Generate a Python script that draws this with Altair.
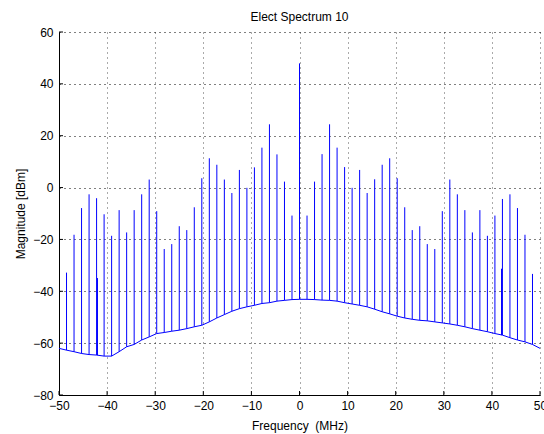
import altair as alt
import pandas as pd

# Spectral line index (spacing 1.5625 MHz)
k_index = list(range(-31, 32))
spacing_mhz = 1.5625

# Peak magnitude of each spectral line (dBm), k = -31 .. 31
peak_dbm = [
    -32.8, -18.2, -7.9, -2.6, -4.1, -10.3, -18.6, -8.7, -17.3, -8.7,
    -2.6, 3.1, -9.1, -23.7, -21.8, -14.9, -16.4, -7.6, 3.6, 11.3,
    8.8, 3.1, -2.1, 6.8, -0.1, 7.8, 15.4, 24.4, 12.8, 2.3,
    -10.8, 47.9, -10.8, 2.3, 12.9, 24.4, 15.4, 7.9, -0.1, 6.8,
    -2.1, 3.2, 8.8, 11.3, 3.6, -7.6, -16.4, -14.9, -21.8, -23.7,
    -9.1, 3.1, -2.6, -8.7, -17.3, -8.7, -18.6, -10.8, -4.4, -2.6,
    -7.9, -18.2, -33.3,
]

# Noise floor under each spectral line (dBm), k = -31 .. 31
floor_dbm = [
    -62.7, -63.3, -64.0, -64.4, -64.6, -65.0, -65.0, -63.3, -61.4, -60.5,
    -58.8, -57.6, -56.3, -55.9, -55.4, -55.0, -54.4, -53.7, -53.1, -51.8,
    -50.3, -49.0, -47.7, -46.7, -46.0, -45.4, -44.7, -44.4, -43.8, -43.5,
    -43.2, -43.1, -43.1, -43.2, -43.4, -43.5, -43.8, -44.4, -44.9, -45.4,
    -46.0, -46.9, -47.9, -48.7, -49.6, -50.3, -50.8, -51.2, -51.4, -51.8,
    -52.2, -52.6, -53.1, -53.7, -54.4, -55.0, -55.6, -56.3, -56.9, -57.9,
    -58.8, -59.5, -60.5,
]

# Band edges of the noise floor
edge_freq = [-50.0, 50.0]
edge_floor = [-62.0, -62.0]

# Two small extra spurs
spur_freq = [-42.0, 42.0]
spur_peak = [-34.9, -31.3]
spur_floor = [-64.6, -56.9]

x_ticks = [-50, -40, -30, -20, -10, 0, 10, 20, 30, 40, 50]
y_ticks = [-80, -60, -40, -20, 0, 20, 40, 60]

line_freq = [k * spacing_mhz for k in k_index]

spikes = pd.DataFrame({
    "freq": line_freq + spur_freq,
    "top": peak_dbm + spur_peak,
    "base": floor_dbm + spur_floor,
})
floor = pd.DataFrame({
    "freq": [edge_freq[0]] + line_freq + [edge_freq[1]],
    "mag": [edge_floor[0]] + floor_dbm + [edge_floor[1]],
})

W, H = 481, 363
FONT = "Liberation Sans"
BLUE = "#0000ff"

xscale = alt.Scale(domain=[-50, 50], nice=False, zero=False)
yscale = alt.Scale(domain=[-80, 60], nice=False, zero=False)

xaxis = alt.Axis(
    values=x_ticks, title="Frequency \u00a0(MHz)", labelPadding=5,
    titleY=34, titleBaseline="alphabetic", titleX=W / 2,
    gridColor="#555555", gridDash=[1, 4], format="d",
    labelFlush=False, labelOverlap=False,
)
yaxis = alt.Axis(
    values=y_ticks, title="Magnitude [dBm]", labelPadding=6,
    titleX=-39, titleY=H / 2, titleAngle=270, titleAlign="center",
    titleBaseline="middle", gridColor="#000000", gridDash=[1, 4], format="d",
    labelFlush=False, labelOverlap=False,
)

floor_line = alt.Chart(floor).mark_line(color=BLUE, strokeWidth=1).encode(
    x=alt.X("freq:Q", scale=xscale, axis=xaxis),
    y=alt.Y("mag:Q", scale=yscale, axis=yaxis),
    order="freq:Q",
)

spike_rules = alt.Chart(spikes).mark_rule(color=BLUE, strokeWidth=1).encode(
    x=alt.X("freq:Q", scale=xscale, axis=xaxis),
    y=alt.Y("top:Q", scale=yscale, axis=yaxis),
    y2="base:Q",
)

xt = pd.DataFrame({"v": x_ticks})
yt = pd.DataFrame({"v": y_ticks})

x_tick_marks = alt.Chart(xt).mark_rule(color="black", strokeWidth=1).encode(
    x=alt.X("v:Q", scale=xscale, axis=xaxis),
    y=alt.value(H),
    y2=alt.value(H - 4),
)
y_tick_marks = alt.Chart(yt).mark_rule(color="black", strokeWidth=1).encode(
    y=alt.Y("v:Q", scale=yscale, axis=yaxis),
    x=alt.value(0),
    x2=alt.value(4),
)

chart = alt.layer(floor_line, spike_rules, x_tick_marks, y_tick_marks).properties(
    width=W,
    height=H,
    title=alt.TitleParams(
        "Elect Spectrum 10", font=FONT, fontSize=12, fontWeight="normal",
        color="black", anchor="middle", offset=-7, baseline="alphabetic",
    ),
    autosize=alt.AutoSizeParams(type="none"),
    padding={"left": 59, "top": 32, "right": 4, "bottom": 39},
    background="white",
).configure_view(stroke=None).configure_axis(
    domainColor="black", domainWidth=1, tickSize=0, ticks=False,
    labelFont=FONT, labelFontSize=12, labelColor="black",
    titleFont=FONT, titleFontSize=12, titleFontWeight="normal", titleColor="black",
    gridOpacity=1, gridWidth=1,
)

chart.save("out.html", embed_options={"renderer": "svg", "actions": False})
